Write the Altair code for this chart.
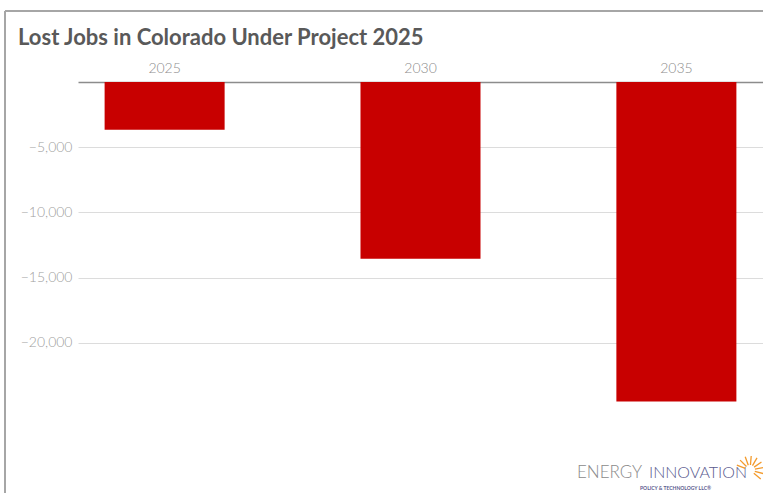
import math
import altair as alt
import pandas as pd

# ---- data ----
years = ["2025", "2030", "2035"]
lost_jobs = [-3670, -13560, -24520]
y_ticks = [-20000, -15000, -10000, -5000]
ray_angles = [160, 135, 110, 85, 60, 35, 10, -15, -40]

FONT = "Lato"
W, H = 685, 391

df = pd.DataFrame({"year": years, "jobs": lost_jobs})

bars = alt.Chart(df).mark_bar(color="#c80000").encode(
    x=alt.X(
        "year:N", sort=years, title=None,
        scale=alt.Scale(paddingInner=0.531, paddingOuter=0.104),
        axis=alt.Axis(orient="top", labelAngle=0, ticks=False, grid=False,
                      domainColor="#8c8c8c", domainWidth=1.5,
                      labelColor="#8c8c8c", labelFontSize=14, labelFont=FONT,
                      labelFontWeight=300, labelPadding=7),
    ),
    y=alt.Y(
        "jobs:Q", title=None,
        scale=alt.Scale(domain=[-30000, 0], nice=False),
        axis=alt.Axis(values=y_ticks, labelExpr="format(datum.value, ',')",
                      domain=False, ticks=False,
                      gridColor="#dcdcdc", gridWidth=1,
                      labelColor="#a0a0a0", labelFontSize=14, labelFont=FONT,
                      labelFontWeight=300, labelPadding=6),
    ),
)

one = alt.Data(values=[{"k": 1}])

frame_top = alt.Chart(one).mark_rule(color="#a6a6a6", strokeWidth=2).encode(
    x=alt.value(-73), x2=alt.value(W + 10), y=alt.value(-71)
)
frame_left = alt.Chart(one).mark_rule(color="#a6a6a6", strokeWidth=2).encode(
    x=alt.value(-73), y=alt.value(-71), y2=alt.value(H + 30)
)

title = alt.Chart(one).mark_text(
    text="Lost Jobs in Colorado Under Project 2025", align="left",
    baseline="alphabetic", font=FONT, fontSize=22, fontWeight="bold",
    color="#595959"
).encode(x=alt.value(-60), y=alt.value(-37))

logo_energy = alt.Chart(one).mark_text(
    text="ENERGY", align="left", baseline="alphabetic", font=FONT,
    fontSize=17, fontWeight=300, color="#8a8a8a"
).encode(x=alt.value(499), y=alt.value(396))
logo_innov = alt.Chart(one).mark_text(
    text="INNOVATION", align="left", baseline="alphabetic", font=FONT,
    fontSize=16, fontWeight=300, color="#5a5a8e"
).encode(x=alt.value(571), y=alt.value(396))
logo_small = alt.Chart(one).mark_text(
    text="POLICY & TECHNOLOGY LLC\u00ae", align="left", baseline="alphabetic",
    font=FONT, fontSize=5, fontWeight="bold", color="#5a5a8e"
).encode(x=alt.value(562), y=alt.value(408))

rays = []
for a in ray_angles:
    r = math.radians(a)
    rays.append(
        alt.Chart(one).mark_rule(color="#f39a2b", strokeWidth=1.3).encode(
            x=alt.value(672 + 5 * math.cos(r)), y=alt.value(388 - 5 * math.sin(r)),
            x2=alt.value(672 + 14 * math.cos(r)), y2=alt.value(388 - 14 * math.sin(r)),
        )
    )

chart = alt.layer(
    bars, frame_top, frame_left, title, logo_energy, logo_innov, logo_small, *rays
).properties(
    width=W,
    height=H,
    autosize=alt.AutoSizeParams(type="none"),
    padding={"left": 78, "top": 82, "right": 0, "bottom": 20},
    background="white",
).configure_view(strokeWidth=0, stroke="transparent")

chart.save("out.html", embed_options={"renderer": "svg", "actions": False})
